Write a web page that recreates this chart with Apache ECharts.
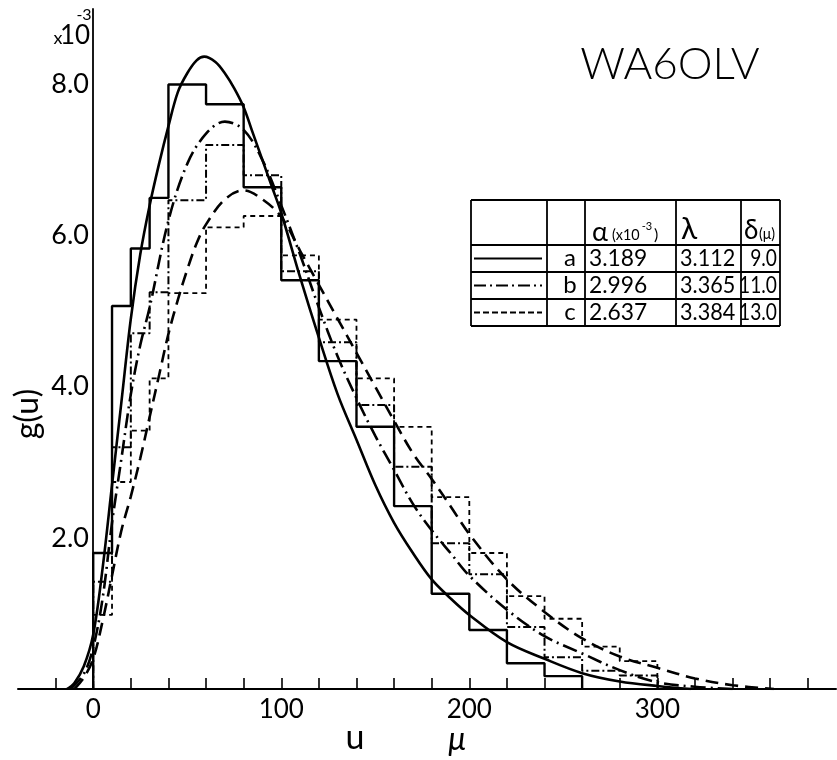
<!DOCTYPE html>
<html>
<head>
<meta charset="utf-8">
<script src="https://cdn.jsdelivr.net/npm/echarts@6/dist/echarts.min.js"></script>
<style>
  html, body { margin: 0; padding: 0; background: #ffffff; }
  #chart { width: 837px; height: 760px; }
</style>
</head>
<body>
<div id="chart"></div>
<script>
// Bin edges (μ) shared by the three measured histograms
const binEdges = [0, 10, 20, 30, 40, 60, 80, 100, 120, 140, 160, 180, 200, 220, 240, 260, 280, 300];
// Histogram heights g(u) in units of 10^-3
const histA = [1.80, 5.07, 5.83, 6.50, 8.00, 7.74, 6.64, 5.41, 4.34, 3.47, 2.42, 1.26, 0.78, 0.34, 0.17];
const histB = [1.42, 3.20, 4.71, 5.25, 6.47, 7.20, 6.80, 5.53, 4.59, 3.76, 2.94, 1.93, 1.52, 0.82, 0.42, 0.24, 0.18];
const histC = [0.98, 2.74, 3.42, 4.11, 5.24, 6.11, 6.26, 5.74, 4.89, 4.11, 3.47, 2.54, 1.80, 1.23, 0.93, 0.56, 0.37];

// Fitted curves: abscissa u (μ) and g(u) (×10^-3)
const curveAu = [-14, -10, -5, 0, 5, 10, 15, 20, 25, 30, 35, 40, 45, 50, 55, 59, 65, 70, 75, 80, 85, 90, 95, 100, 110, 120, 130, 140, 150, 160, 170, 180, 190, 200, 220, 240, 260, 280, 300, 318];
const curveAg = [0, 0.08, 0.3, 0.72, 1.6, 2.7, 3.8, 4.9, 5.75, 6.4, 6.95, 7.45, 7.9, 8.15, 8.32, 8.37, 8.3, 8.15, 7.95, 7.7, 7.35, 7.0, 6.65, 6.3, 5.45, 4.65, 3.9, 3.3, 2.7, 2.2, 1.8, 1.45, 1.2, 0.98, 0.62, 0.4, 0.21, 0.1, 0.04, 0];
const curveBu = [-12, -5, 0, 5, 10, 15, 20, 25, 30, 40, 50, 60, 70, 80, 90, 100, 110, 120, 130, 140, 150, 160, 170, 180, 190, 200, 220, 240, 260, 280, 300, 320, 340];
const curveBg = [0, 0.2, 0.55, 1.2, 2.2, 3.05, 3.9, 4.55, 5.05, 6.2, 6.95, 7.35, 7.51, 7.4, 7.0, 6.4, 5.75, 5.05, 4.4, 3.85, 3.35, 2.9, 2.45, 2.1, 1.8, 1.5, 1.05, 0.7, 0.47, 0.25, 0.09, 0.03, 0];
const curveCu = [-10, -5, 0, 5, 10, 15, 20, 25, 30, 35, 40, 45, 50, 55, 60, 70, 80, 90, 100, 110, 120, 130, 140, 150, 160, 170, 180, 190, 200, 220, 240, 260, 280, 300, 320, 340, 362];
const curveCg = [0, 0.15, 0.4, 0.9, 1.5, 2.1, 2.55, 3.05, 3.6, 4.15, 4.7, 5.15, 5.55, 5.9, 6.15, 6.48, 6.6, 6.48, 6.25, 5.8, 5.35, 4.9, 4.45, 4.0, 3.55, 3.12, 2.78, 2.42, 2.05, 1.45, 1.02, 0.67, 0.43, 0.28, 0.14, 0.05, 0];

// Axis ticks and labels
const xTickValues = [-20, 0, 20, 40, 60, 80, 100, 120, 140, 160, 180, 200, 220, 240, 260, 280, 300, 320, 340, 360, 380];
const xLabelValues = [0, 100, 200, 300];
const yLabelValues = [2, 4, 6, 8];

// Fit parameters listed in the key table
const fitNames = ['a', 'b', 'c'];
const fitAlpha = ['3.189', '2.996', '2.637'];
const fitLambda = ['3.112', '3.365', '3.384'];
const fitDelta = ['9.0', '11.0', '13.0'];

const FONT = 'Lato, "DejaVu Sans", sans-serif';
const INK = '#000000';

// Step outline of a histogram: up from the axis, across each bin, back down
function stepOutline(values) {
  const pts = [[binEdges[0], 0]];
  values.forEach((v, i) => {
    pts.push([binEdges[i], v]);
    pts.push([binEdges[i + 1], v]);
  });
  pts.push([binEdges[values.length], 0]);
  return pts;
}
function zipCurve(us, gs) { return us.map((u, i) => [u, gs[i]]); }

const solid = 'solid';
const dashDotCurve = [15, 5, 2, 5];
const dashedCurve = [13, 7];
const dashDotHist = [8, 3, 2, 3];
const dashedHist = [5, 4];

function histSeries(values, type, width) {
  return {
    type: 'line', data: stepOutline(values), showSymbol: false, silent: true,
    lineStyle: { color: INK, width: width, type: type }, z: 2
  };
}
function curveSeries(us, gs, type) {
  return {
    type: 'line', data: zipCurve(us, gs), smooth: 0.35, showSymbol: false, silent: true,
    lineStyle: { color: INK, width: 2.6, type: type }, z: 3
  };
}

// Key table geometry
const tblX = [471, 547, 585, 676, 741, 780];
const tblY = [200, 245, 272, 299, 326];
const graphics = [];
function hLine(x1, x2, y, w) {
  graphics.push({ type: 'line', shape: { x1: x1, y1: y, x2: x2, y2: y }, style: { stroke: INK, lineWidth: w || 1.8 }, silent: true });
}
function vLine(x, y1, y2, w) {
  graphics.push({ type: 'line', shape: { x1: x, y1: y1, x2: x, y2: y2 }, style: { stroke: INK, lineWidth: w || 1.8 }, silent: true });
}
function label(text, x, y, font, align, rotation, scaleX) {
  graphics.push({
    type: 'text', x: x, y: y, rotation: rotation || 0, scaleX: scaleX || 1, silent: true,
    style: { text: text, fill: INK, font: font, align: align || 'center', verticalAlign: 'middle' }
  });
}
const px = (s) => s + 'px ' + FONT;

tblY.forEach(y => hLine(tblX[0], tblX[5], y));
tblX.forEach(x => vLine(x, tblY[0], tblY[4]));
// header
label('α', 600, 232, px(27));
label('(x10', 612, 235, px(16), 'left', 0, 0.9);
label('-3', 647, 226, px(11));
label(')', 654, 235, px(16), 'left');
label('λ', 681, 229, px(30), 'left');
label('δ', 744, 231, px(26), 'left');
label('(μ)', 759, 234, px(15), 'left', 0, 0.95);
// rows
const sampleDash = [null, [12, 4, 2, 4], [6, 3]];
fitNames.forEach((n, i) => {
  const cy = (tblY[i + 1] + tblY[i + 2]) / 2;
  graphics.push({ type: 'line', shape: { x1: tblX[0] + 3, y1: cy, x2: tblX[1] - 5, y2: cy }, style: { stroke: INK, lineWidth: 1.8, lineDash: sampleDash[i] }, silent: true });
  label(n, (tblX[1] + tblX[2]) / 2 + 4, cy, px(24));
  label(fitAlpha[i], tblX[2] + 4, cy, px(24), 'left', 0, 0.95);
  label(fitLambda[i], tblX[3] + 4, cy, px(24), 'left', 0, 0.9);
  label(fitDelta[i], tblX[5] - 3, cy, px(24), 'right', 0, 0.8);
});

// Titles and axis names
label('WA6OLV', 670, 65, '300 44px ' + FONT);
label('g(u)', 28, 414, px(32), 'center', Math.PI / 2);
label('u', 355, 738, px(34));
label('μ', 457, 740, 'italic 32px ' + FONT);
label('x', 58, 38, px(18));
label('10', 75, 36, px(26));
label('-3', 84, 15, px(16));

const chart = echarts.init(document.getElementById('chart'), null, { renderer: 'canvas' });
chart.setOption({
  backgroundColor: '#ffffff',
  animation: false,
  grid: { left: 18, top: 9, width: 818, height: 680, containLabel: false, outerBoundsMode: 'none' },
  xAxis: {
    type: 'value', min: -40, max: 395,
    axisLine: { show: true, onZero: true, lineStyle: { color: INK, width: 2 } },
    axisTick: { show: true, inside: true, length: 11, customValues: xTickValues, lineStyle: { color: INK, width: 1.6 } },
    axisLabel: { customValues: xLabelValues, color: INK, fontSize: 26, fontFamily: FONT, margin: 8 },
    splitLine: { show: false }
  },
  yAxis: {
    type: 'value', min: 0, max: 9,
    axisLine: { show: true, onZero: true, lineStyle: { color: INK, width: 1.8 } },
    axisTick: { show: false },
    // labels sit beside the u = 0 line rather than the grid edge
    axisLabel: { customValues: yLabelValues, formatter: v => v.toFixed(1), color: INK, fontSize: 27, fontFamily: FONT, margin: -71 },
    splitLine: { show: false }
  },
  series: [
    histSeries(histA, solid, 2.4),
    histSeries(histB, dashDotHist, 2.0),
    histSeries(histC, dashedHist, 1.8),
    curveSeries(curveAu, curveAg, solid),
    curveSeries(curveBu, curveBg, dashDotCurve),
    curveSeries(curveCu, curveCg, dashedCurve)
  ],
  graphic: graphics
});
</script>
</body>
</html>
